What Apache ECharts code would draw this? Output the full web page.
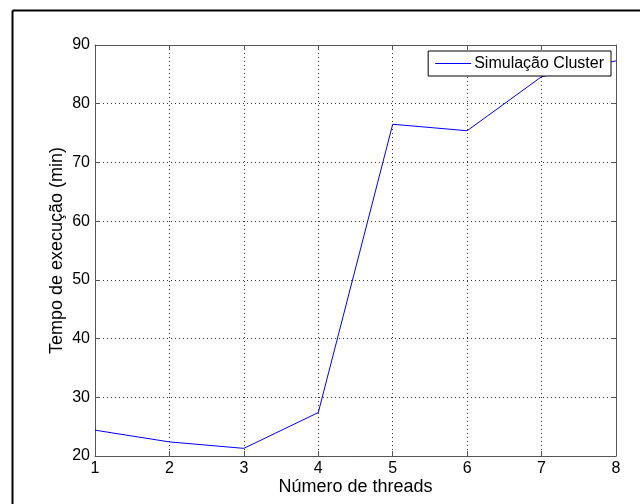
<!DOCTYPE html>
<html>
<head>
<meta charset="utf-8">
<script src="https://cdn.jsdelivr.net/npm/echarts@6/dist/echarts.min.js"></script>
<style>html,body{margin:0;padding:0;background:#fff;}#c{width:640px;height:504px;}</style>
</head>
<body>
<div id="c"></div>
<script>
const threads = [1, 2, 3, 4, 5, 6, 7, 8];
const tempo = [24.4, 22.4, 21.3, 27.4, 76.5, 75.4, 84.6, 87.3];
const seriesName = 'Simulação Cluster';
const xName = 'Número de threads';
const yName = 'Tempo de execução (min)';

const chart = echarts.init(document.getElementById('c'), null, {renderer: 'canvas'});
const font = 'Liberation Sans, Arial, sans-serif';
const gridLine = {show: true, lineStyle: {color: '#333', type: [1, 3], width: 1}};
const axisLine = {show: true, lineStyle: {color: '#555', width: 1}};
const tick = {show: true, inside: true, length: 5, lineStyle: {color: '#555'}};
chart.setOption({
  animation: false,
  backgroundColor: '#fff',
  textStyle: {fontFamily: font},
  grid: {left: 95, right: 24, top: 45, bottom: 48, containLabel: false},
  legend: {
    data: [{name: seriesName, icon: 'rect', itemStyle: {color: '#0000ff', borderWidth: 0, opacity: 1}}],
    right: 29, top: 51,
    itemWidth: 36, itemHeight: 1,
    padding: [4, 7, 4, 7],
    borderColor: '#000', borderWidth: 1, backgroundColor: '#fff',
    itemStyle: {color: '#0000ff', borderWidth: 0},
    textStyle: {fontSize: 16, lineHeight: 17, color: '#000', fontFamily: font, padding: [0, 0, 0, -2]}
  },
  xAxis: [{
    type: 'value', min: 1, max: 8, interval: 1,
    name: xName, nameLocation: 'middle', nameGap: 22, nameMoveOverlap: false,
    nameTextStyle: {fontSize: 18, color: '#000', fontFamily: font},
    axisLabel: {fontSize: 16, color: '#000', margin: 5, fontFamily: font},
    axisLine: axisLine, axisTick: tick, splitLine: gridLine
  }, {
    type: 'value', min: 1, max: 8, interval: 1, position: 'top',
    axisLabel: {show: false}, axisLine: axisLine, axisTick: tick, splitLine: {show: false}
  }],
  yAxis: [{
    type: 'value', min: 20, max: 90, interval: 10,
    name: yName, nameLocation: 'middle', nameGap: 29, nameMoveOverlap: false,
    nameTextStyle: {fontSize: 18, color: '#000', fontFamily: font},
    axisLabel: {fontSize: 16, color: '#000', margin: 5, fontFamily: font},
    axisLine: axisLine, axisTick: tick, splitLine: gridLine
  }, {
    type: 'value', min: 20, max: 90, interval: 10, position: 'right',
    axisLabel: {show: false}, axisLine: axisLine, axisTick: tick, splitLine: {show: false}
  }],
  series: [{
    name: seriesName, type: 'line',
    data: threads.map((t, i) => [t, tempo[i]]),
    symbol: 'none', color: '#0000ff',
    itemStyle: {color: '#0000ff'},
    lineStyle: {color: '#0000ff', width: 1}
  }],
  graphic: [
    {type: 'line', shape: {x1: 12.5, y1: 10.5, x2: 12.5, y2: 504}, style: {stroke: '#000', lineWidth: 2}},
    {type: 'line', shape: {x1: 12.5, y1: 10.5, x2: 640, y2: 10.5}, style: {stroke: '#000', lineWidth: 2}}
  ]
});
</script>
</body>
</html>
